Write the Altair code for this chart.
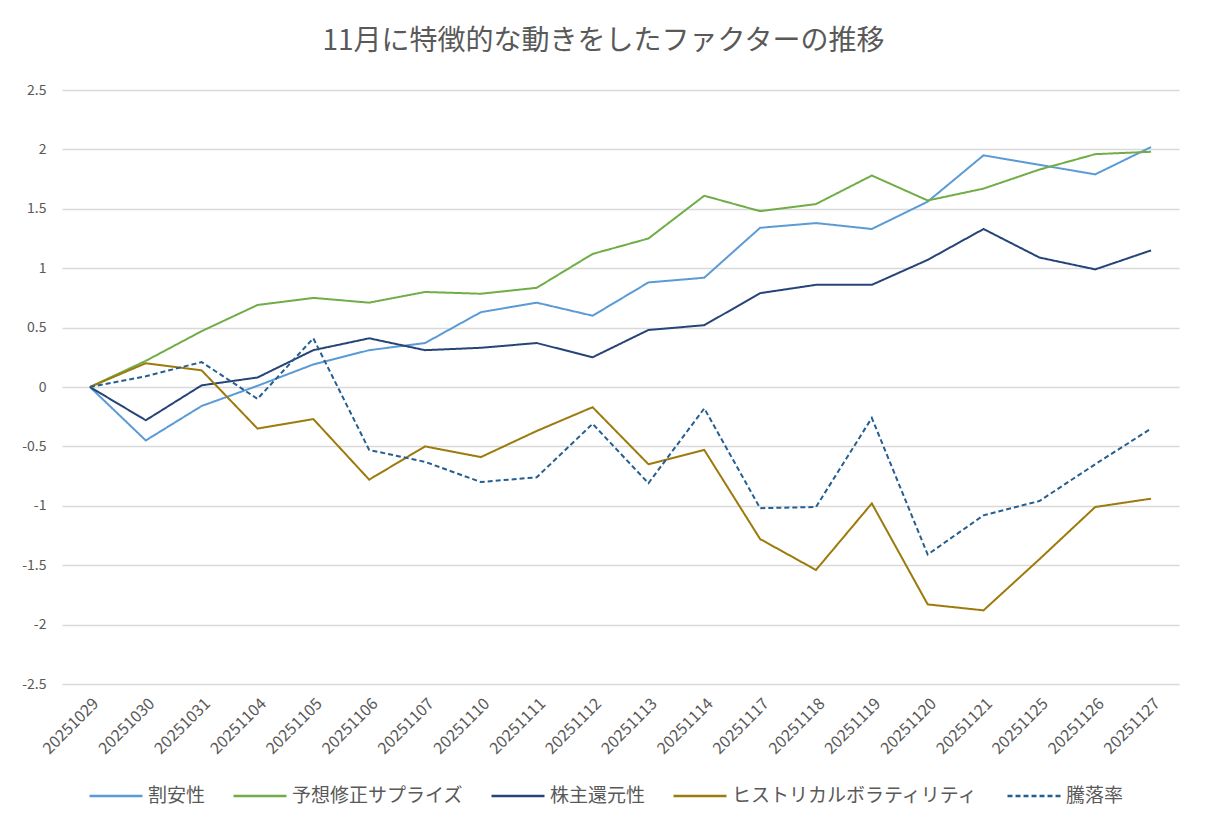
import altair as alt
import pandas as pd

dates = ["20251029", "20251030", "20251031", "20251104", "20251105", "20251106",
         "20251107", "20251110", "20251111", "20251112", "20251113", "20251114",
         "20251117", "20251118", "20251119", "20251120", "20251121", "20251125",
         "20251126", "20251127"]

series_names = ["割安性", "予想修正サプライズ", "株主還元性", "ヒストリカルボラティリティ", "騰落率"]

wariyasu = [0, -0.45, -0.16, 0.01, 0.19, 0.31, 0.37, 0.63, 0.71, 0.60,
            0.88, 0.92, 1.34, 1.38, 1.33, 1.56, 1.95, 1.87, 1.79, 2.02]
yosou = [0, 0.22, 0.47, 0.69, 0.75, 0.71, 0.80, 0.785, 0.835, 1.12,
         1.25, 1.61, 1.48, 1.54, 1.78, 1.57, 1.67, 1.83, 1.96, 1.98]
kabunushi = [0, -0.28, 0.014, 0.08, 0.31, 0.41, 0.31, 0.33, 0.37, 0.25,
             0.48, 0.52, 0.79, 0.86, 0.86, 1.07, 1.33, 1.09, 0.99, 1.15]
hist_vol = [0, 0.20, 0.14, -0.35, -0.27, -0.78, -0.50, -0.59, -0.37, -0.17,
            -0.65, -0.53, -1.28, -1.54, -0.98, -1.83, -1.88, -1.45, -1.01, -0.94]
touraku = [0, 0.09, 0.21, -0.10, 0.41, -0.53, -0.63, -0.80, -0.76, -0.31,
           -0.81, -0.18, -1.02, -1.01, -0.26, -1.41, -1.08, -0.96, -0.65, -0.35]

colors = ["#5B9BD5", "#70AD47", "#264478", "#9C7A0C", "#255E91"]
dashes = [[1, 0], [1, 0], [1, 0], [1, 0], [5, 3]]

rows = []
for name, vals in zip(series_names, [wariyasu, yosou, kabunushi, hist_vol, touraku]):
    for d, v in zip(dates, vals):
        rows.append({"date": d, "series": name, "value": v})
df = pd.DataFrame(rows)

FONT = "Noto Sans CJK JP"
GRAY = "#595959"

legend_opts = dict(title=None, orient="none", direction="horizontal",
                   legendX=26, legendY=678,
                   symbolType="stroke", symbolSize=2809, symbolStrokeWidth=2.5,
                   labelFontSize=19, labelColor=GRAY, labelFont=FONT,
                   columnPadding=22, labelOffset=4, labelLimit=500)

chart = alt.Chart(df).mark_line(strokeWidth=2).encode(
    x=alt.X("date:N", sort=dates, title=None,
            scale=alt.Scale(type="point", padding=0.5),
            axis=alt.Axis(labelAngle=-45, labelFontSize=16, labelColor=GRAY, labelFont=FONT,
                          ticks=False, domain=False, grid=False, labelPadding=11)),
    y=alt.Y("value:Q", title=None,
            scale=alt.Scale(domain=[-2.5, 2.5], nice=False, zero=False),
            axis=alt.Axis(values=[-2.5, -2, -1.5, -1, -0.5, 0, 0.5, 1, 1.5, 2, 2.5],
                          labelExpr="datum.value + ''", labelFontSize=14, labelColor=GRAY,
                          labelFont=FONT, ticks=False, domain=False, grid=True,
                          gridColor="#D9D9D9", gridWidth=1.3, labelPadding=16)),
    color=alt.Color("series:N", sort=series_names,
                    scale=alt.Scale(domain=series_names, range=colors),
                    legend=alt.Legend(**legend_opts)),
    strokeDash=alt.StrokeDash("series:N", sort=series_names,
                              scale=alt.Scale(domain=series_names, range=dashes),
                              legend=alt.Legend(**legend_opts)),
).properties(
    width=1117,
    height=594,
    title=alt.TitleParams("11月に特徴的な動きをしたファクターの推移", fontSize=28, font=FONT,
                          color=GRAY, fontWeight="normal", anchor="middle", offset=27, dx=-17),
    autosize=alt.AutoSizeParams(type="none"),
    padding={"left": 54, "top": 82, "right": 18, "bottom": 135},
).configure(background="white").configure_view(stroke=None, strokeWidth=0)

chart.save("out.html", embed_options={"renderer": "svg", "actions": False})
